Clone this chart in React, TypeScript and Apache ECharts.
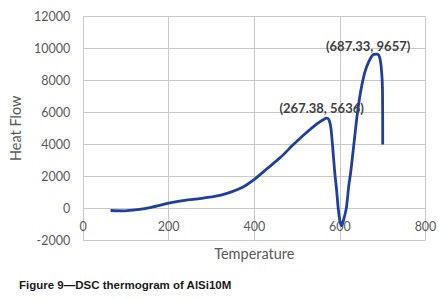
import React, { useEffect, useRef } from "react";
import * as echarts from "echarts";

const temperature = [64, 97, 128, 159, 200, 229, 268, 307, 338, 369, 401, 431, 462, 490, 516, 547, 562, 569, 575, 579, 583, 588, 592, 596, 600, 604, 608, 615, 621, 625, 633, 640, 648, 658, 668, 679, 687, 693, 697, 699.5, 700];
const heatFlow = [-150, -170, -90, 50, 314, 459, 585, 730, 943, 1258, 1824, 2500, 3200, 3950, 4600, 5300, 5560, 5636, 5500, 5000, 3874, 2201, 1200, 0, -800, -1100, -800, 0, 1470, 2201, 4088, 5761, 7233, 8491, 9220, 9641, 9657, 9434, 8698, 7440, 3981];

const annotations = [
  { at: [569, 5636], text: "(267.38, 5636)" },
  { at: [687, 9657], text: "(687.33, 9657)" },
];

const xTicks = { min: 0, max: 800, interval: 200 };
const yTicks = { min: -2000, max: 12000, interval: 2000 };

const caption = "Figure 9—DSC thermogram of AlSi10M";

const GRID = { left: 81.7, right: 19.5, top: 16.7, bottom: 60 };
const HEIGHT = 300;

export default function App() {
  const ref = useRef<HTMLDivElement>(null);
  useEffect(() => {
    if (!ref.current) return;
    const chart = echarts.init(ref.current, undefined, { renderer: "svg" });
    const gridColor = "#c9c9c9";
    const labelFont = { fontFamily: "Lato", fontSize: 12.5, color: "#595959" };
    const nameFont = { fontFamily: "Lato", fontSize: 14.5, color: "#595959" };
    const [capBold, capRest] = [caption.slice(0, 12), caption.slice(12)];
    // place the x axis on the zero line of the y axis
    const plotH = HEIGHT - GRID.top - GRID.bottom;
    const zeroFromBottom = (plotH * (0 - yTicks.min)) / (yTicks.max - yTicks.min);
    chart.setOption({
      animation: false,
      backgroundColor: "#ffffff",
      title: {
        text: `{b|${capBold}}{r|${capRest}}`,
        left: 14,
        top: 274,
        textStyle: {
          rich: {
            b: { fontFamily: "Liberation Sans", fontSize: 11.5, fontWeight: "bold", color: "#1a1a1a" },
            r: { fontFamily: "Liberation Sans", fontSize: 11.5, color: "#1a1a1a" },
          },
        },
      },
      grid: GRID,
      xAxis: {
        type: "value",
        ...xTicks,
        position: "bottom",
        offset: -zeroFromBottom,
        name: "Temperature",
        nameLocation: "middle",
        nameGap: 38,
        nameTextStyle: nameFont,
        axisLine: { show: true, onZero: false, lineStyle: { color: gridColor } },
        axisTick: { show: false },
        axisLabel: { ...labelFont, margin: 12 },
        splitLine: { show: true, lineStyle: { color: gridColor } },
      },
      yAxis: {
        type: "value",
        ...yTicks,
        name: "Heat Flow",
        nameLocation: "middle",
        nameGap: 52,
        nameTextStyle: nameFont,
        axisLine: { show: true, onZero: false, lineStyle: { color: gridColor } },
        axisTick: { show: false },
        axisLabel: { ...labelFont, margin: 13, formatter: (v: number) => String(v) },
        splitLine: { show: true, lineStyle: { color: gridColor } },
      },
      series: [
        {
          type: "line",
          data: temperature.map((t, i) => [t, heatFlow[i]]),
          showSymbol: false,
          smooth: 0.3,
          lineStyle: { color: "#1e3fa0", width: 2.8 },
          markPoint: {
            symbol: "circle",
            symbolSize: 0,
            data: annotations.map((a, i) => ({
              coord: a.at,
              value: a.text,
              label: {
                show: true,
                position: "top",
                formatter: a.text,
                offset: i === 0 ? [-5, 1] : [-9, 3],
                fontFamily: "Lato",
                fontSize: 13,
                fontWeight: "bold",
                color: "#404040",
              },
            })),
          },
        },
      ],
    });
    return () => chart.dispose();
  }, []);
  return (
    <div
      ref={ref}
      style={{ position: "fixed", left: 0, top: 0, width: 445, height: HEIGHT }}
    />
  );
}
